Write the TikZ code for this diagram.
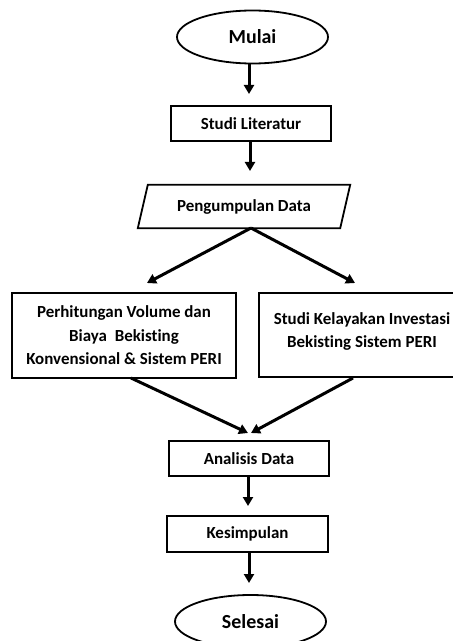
\documentclass[tikz,border=0pt]{standalone}
\usepackage{fontspec}
\setmainfont[Ligatures={NoCommon,NoRare}]{Carlito}
\usetikzlibrary{shapes.geometric,arrows.meta}
\begin{document}
\begin{tikzpicture}[x=1bp,y=-1bp,
  every node/.style={font=\bfseries\fontsize{17}{23.5}\selectfont, inner sep=0pt},
  box/.style={draw, line width=1.8bp, rectangle, align=center},
  term/.style={draw, line width=1.8bp, ellipse, minimum width=151bp, minimum height=53bp, font=\bfseries\fontsize{20}{24}\selectfont},
  arr/.style={line width=3bp, -{Triangle[length=9bp,width=10bp]}}]
\useasboundingbox (0,0) rectangle (453,641);
\clip (0,0) rectangle (453,641);

\node[term] (mulai) at (252.5,37) {Mulai};
\node[box, minimum width=160bp, minimum height=35bp] (lit) at (251,123.5) {Studi Literatur};
\node[minimum width=202bp, minimum height=43bp] (peng) at (244,206.5) {Pengumpulan Data};
\draw[line width=1.8bp] ([xshift=5bp]peng.north west) -- ([xshift=5bp]peng.north east)
  -- ([xshift=-5bp]peng.south east) -- ([xshift=-5bp]peng.south west) -- cycle;
\node[box, minimum width=224bp, minimum height=85bp] (lbox) at (124,335.5)
  {Perhitungan Volume dan\\Biaya\ \ Bekisting\\Konvensional \& Sistem PERI};
\node[box, minimum width=206bp, minimum height=84bp] (rbox) at (362,335)
  {Studi Kelayakan Investasi\\Bekisting Sistem PERI\\[-13.5bp]};
\node[box, minimum width=160bp, minimum height=35bp] (ana) at (249,458.5) {Analisis Data};
\node[box, minimum width=161bp, minimum height=36bp] (kes) at (247.5,534) {Kesimpulan};
\node[term] (sel) at (250.5,621.5) {Selesai};

\coordinate (t1) at (249,94);
\coordinate (t2) at (250,171);
\coordinate (ps) at (251,228);
\coordinate (t3) at (147,283);
\coordinate (t4) at (355,283);
\coordinate (ls) at (131,378);
\coordinate (rs) at (353,378);
\coordinate (t5) at (248,433);
\coordinate (t6) at (251,433);
\coordinate (t7) at (248,506);
\coordinate (t8) at (249,583);

\draw[arr] (mulai.south -| t1) -- (t1);
\draw[arr] (lit.south -| t2) -- (t2);
\draw[arr] (ps) -- (t3);
\draw[arr] (ps) -- (t4);
\draw[arr] (ls) -- (t5);
\draw[arr] (rs) -- (t6);
\draw[arr] (ana.south -| t7) -- (t7);
\draw[arr] (kes.south -| t8) -- (t8);
\end{tikzpicture}
\end{document}
